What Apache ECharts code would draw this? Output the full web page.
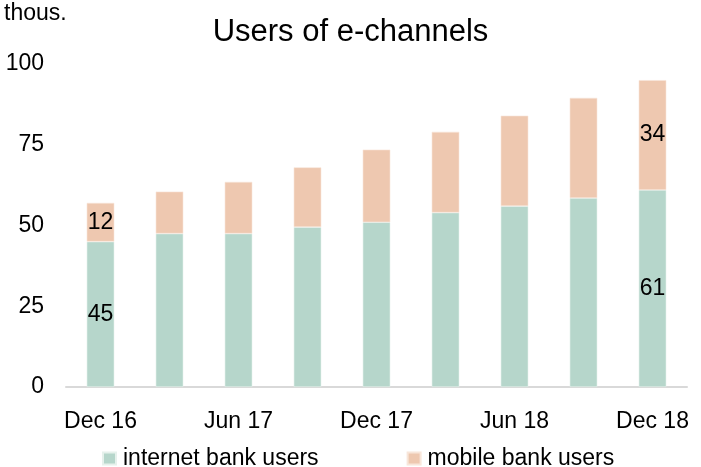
<!DOCTYPE html>
<html>
<head>
<meta charset="utf-8">
<script src="https://cdn.jsdelivr.net/npm/echarts@6/dist/echarts.min.js"></script>
<style>
  html, body { margin: 0; padding: 0; background: #fff; }
  #chart { width: 701px; height: 467px; }
</style>
</head>
<body>
<div id="chart"></div>
<script>
// Quarterly periods, Dec 2016 – Dec 2018
const categories = ['Dec 16', 'Mar 17', 'Jun 17', 'Sep 17', 'Dec 17', 'Mar 18', 'Jun 18', 'Sep 18', 'Dec 18'];
// Users, thousands
const internetUsers = [45, 47.5, 47.5, 49.5, 51, 54, 56, 58.5, 61];
const mobileUsers = [12, 13, 16, 18.5, 22.5, 25, 28, 31, 34];
const yTicks = { min: 0, max: 100, interval: 25 };

const FONT = '"Liberation Sans", Arial, sans-serif';
const labelled = new Set([0, categories.length - 1]);

function withLabels(values) {
  return values.map((v, i) => ({
    value: v,
    label: { show: labelled.has(i) }
  }));
}

const chart = echarts.init(document.getElementById('chart'), null, { renderer: 'canvas' });
chart.setOption({
  animation: false,
  backgroundColor: '#ffffff',
  textStyle: { fontFamily: FONT },
  title: {
    text: 'Users of e-channels',
    left: 'center',
    top: 12,
    textStyle: { fontFamily: FONT, fontSize: 31, fontWeight: 'normal', color: '#000' }
  },
  graphic: [{
    type: 'text',
    left: 4,
    top: 2,
    style: { text: 'thous.', font: '23px ' + FONT, fill: '#000' }
  }],
  legend: {
    top: 442,
    left: 97,
    icon: 'rect',
    itemWidth: 13,
    itemHeight: 12,
    itemGap: 88,
    textStyle: { fontFamily: FONT, fontSize: 23, color: '#000', padding: [0, 0, 0, 2] },
    data: ['internet bank users', 'mobile bank users']
  },
  grid: { left: 66, right: 14, top: 64, bottom: 80, containLabel: false },
  xAxis: {
    type: 'category',
    data: categories,
    axisLine: { lineStyle: { color: '#d9d9d9', width: 2 } },
    axisTick: { show: false },
    axisLabel: { interval: 1, color: '#000', fontSize: 23, fontFamily: FONT, margin: 23 }
  },
  yAxis: {
    type: 'value',
    min: yTicks.min,
    max: yTicks.max,
    interval: yTicks.interval,
    splitLine: { show: false },
    axisLine: { show: false },
    axisTick: { show: false },
    axisLabel: { color: '#000', fontSize: 23, fontFamily: FONT, margin: 22 }
  },
  series: [
    {
      name: 'internet bank users',
      type: 'bar',
      stack: 'users',
      barWidth: '40%',
      data: withLabels(internetUsers),
      itemStyle: { color: '#b6d6cb', borderColor: '#e6f1ec', borderWidth: 0.6 },
      label: { position: 'inside', color: '#000', fontSize: 23, fontFamily: FONT, formatter: p => Math.round(p.value) }
    },
    {
      name: 'mobile bank users',
      type: 'bar',
      stack: 'users',
      barWidth: '40%',
      data: withLabels(mobileUsers),
      itemStyle: { color: '#eec8b0', borderColor: '#f8e6da', borderWidth: 0.6 },
      label: { position: 'inside', color: '#000', fontSize: 23, fontFamily: FONT, formatter: p => Math.round(p.value) }
    }
  ]
});
</script>
</body>
</html>
